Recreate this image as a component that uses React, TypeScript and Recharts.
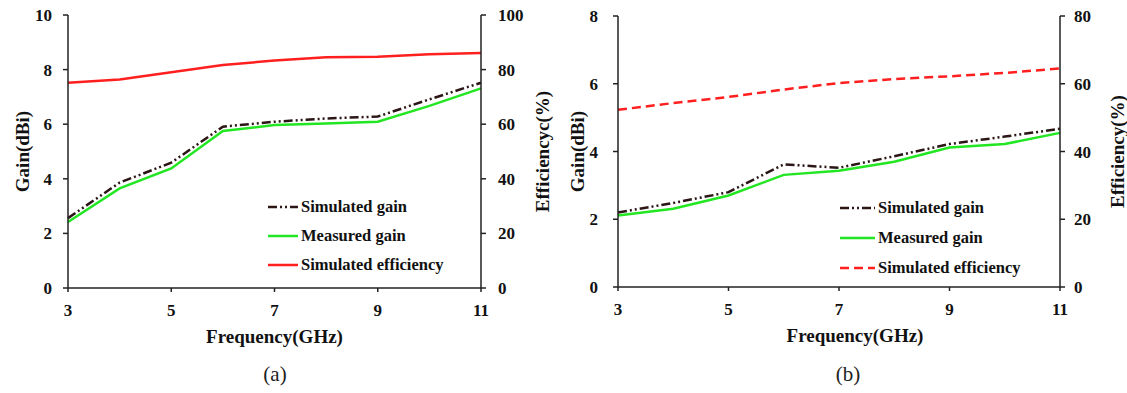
import { LineChart, Line, XAxis, YAxis, Legend, Label } from "recharts";

// frequency samples (GHz) shared by both panels
const freqs = [3, 4, 5, 6, 7, 8, 9, 10, 11];
const freqTicks = [3, 5, 7, 9, 11];

// panel (a)
const simGainA = [2.56, 3.86, 4.59, 5.91, 6.09, 6.21, 6.28, 6.91, 7.52];
const measGainA = [2.42, 3.65, 4.38, 5.75, 5.97, 6.03, 6.09, 6.67, 7.31];
const simEffA = [75.2, 76.4, 79.0, 81.7, 83.3, 84.5, 84.7, 85.6, 86.1];
const gainTicksA = [0, 2, 4, 6, 8, 10];
const effTicksA = [0, 20, 40, 60, 80, 100];

// panel (b)
const simGainB = [2.2, 2.48, 2.8, 3.62, 3.52, 3.86, 4.22, 4.44, 4.67];
const measGainB = [2.11, 2.31, 2.7, 3.31, 3.43, 3.7, 4.12, 4.22, 4.55];
const simEffB = [52.3, 54.3, 56.1, 58.3, 60.2, 61.4, 62.2, 63.2, 64.5];
const gainTicksB = [0, 2, 4, 6, 8];
const effTicksB = [0, 20, 40, 60, 80];

// legend order as in the figure
const legendOrder = ["sim", "meas", "eff"];

const SERIF = "'Liberation Serif', 'Times New Roman', serif";
const AXIS = { stroke: "#222", strokeWidth: 1.5 };
const tickStyle = { fontSize: 17, fontWeight: 700, fill: "#111", fontFamily: SERIF };
const titleStyle = { textAnchor: "middle", fontSize: 19, fontWeight: 700, fill: "#111", fontFamily: SERIF } as any;

const SIM_DASH = "9 3 2 3 2 3";

function buildRows(sim: number[], meas: number[], eff: number[]) {
  return freqs.map((f, i) => ({ f, sim: sim[i], meas: meas[i], eff: eff[i] }));
}

type PanelProps = {
  left: number;
  width: number;
  top: number;
  bottom: number;
  leftW: number;
  rightW: number;
  rows: ReturnType<typeof buildRows>;
  gainMax: number;
  gainTicks: number[];
  effMax: number;
  effTicks: number[];
  leftTickMargin: number;
  rightTickMargin: number;
  leftTitleOffset: number;
  rightTitle: string;
  rightTitleOffset: number;
  xTitleDx: number;
  effDash?: string;
  legendLeft: number;
  legendTop: number;
  legendRowH: number;
  legendLineW: number;
  caption: string;
  captionX: number;
};

function Panel(p: PanelProps) {
  const H = 393;
  const xH = 60;
  const dashFor: Record<string, string | undefined> = { sim: SIM_DASH, meas: undefined, eff: p.effDash };

  const renderLegend = (props: any) => {
    const items = [...(props.payload || [])].sort(
      (a: any, b: any) => legendOrder.indexOf(a.dataKey) - legendOrder.indexOf(b.dataKey)
    );
    return (
      <div style={{ fontFamily: SERIF }}>
        {items.map((e: any) => (
          <div key={e.value} style={{ display: "flex", alignItems: "center", height: p.legendRowH }}>
            <svg width={p.legendLineW + 3} height={6}>
              <line
                x1={0}
                x2={p.legendLineW}
                y1={3}
                y2={3}
                stroke={e.color}
                strokeWidth={2.5}
                strokeDasharray={dashFor[e.dataKey]}
              />
            </svg>
            <span style={{ fontSize: 16.5, fontWeight: 700, color: "#111" }}>{e.value}</span>
          </div>
        ))}
      </div>
    );
  };

  return (
    <div style={{ position: "absolute", left: p.left, top: 0, width: p.width, height: H }}>
      <LineChart
        width={p.width}
        height={H}
        data={p.rows}
        margin={{ top: p.top, right: 0, left: 0, bottom: H - p.bottom - xH }}
      >
        <XAxis
          dataKey="f"
          type="number"
          domain={[3, 11]}
          ticks={freqTicks}
          height={xH}
          axisLine={AXIS}
          tickLine={AXIS}
          tickSize={4}
          tickMargin={12}
          tick={tickStyle}
        >
          <Label value="Frequency(GHz)" position="insideBottom" offset={5} dx={p.xTitleDx} style={titleStyle} />
        </XAxis>
        <YAxis
          yAxisId="gain"
          domain={[0, p.gainMax]}
          ticks={p.gainTicks}
          width={p.leftW}
          axisLine={AXIS}
          tickLine={AXIS}
          tickSize={5}
          tickMargin={p.leftTickMargin}
          tick={tickStyle}
        >
          <Label value="Gain(dBi)" angle={-90} position="insideLeft" offset={p.leftTitleOffset} style={titleStyle} />
        </YAxis>
        <YAxis
          yAxisId="eff"
          orientation="right"
          domain={[0, p.effMax]}
          ticks={p.effTicks}
          width={p.rightW}
          axisLine={AXIS}
          tickLine={AXIS}
          tickSize={5}
          tickMargin={p.rightTickMargin}
          tick={tickStyle}
        >
          <Label value={p.rightTitle} angle={-90} position="insideRight" offset={p.rightTitleOffset} style={titleStyle} />
        </YAxis>
        <Legend
          layout="vertical"
          align="center"
          verticalAlign="middle"
          itemSorter={null as any}
          content={renderLegend}
          wrapperStyle={{ left: p.legendLeft, top: p.legendTop, width: 240 }}
        />
        <Line
          yAxisId="gain"
          dataKey="sim"
          name="Simulated gain"
          stroke="#2b1515"
          strokeWidth={2.5}
          strokeDasharray={SIM_DASH}
          dot={false}
          isAnimationActive={false}
        />
        <Line
          yAxisId="gain"
          dataKey="meas"
          name="Measured gain"
          stroke="#22e622"
          strokeWidth={2.5}
          dot={false}
          isAnimationActive={false}
        />
        <Line
          yAxisId="eff"
          dataKey="eff"
          name="Simulated efficiency"
          stroke="#ff1f1f"
          strokeWidth={2.5}
          strokeDasharray={p.effDash}
          dot={false}
          isAnimationActive={false}
        />
      </LineChart>
      <div
        style={{
          position: "absolute",
          left: p.captionX - p.left - 30,
          width: 60,
          top: 362,
          textAlign: "center",
          fontFamily: SERIF,
          fontSize: 21,
          color: "#222",
        }}
      >
        {p.caption}
      </div>
    </div>
  );
}

export default function App() {
  return (
    <div style={{ position: "absolute", left: 0, top: 0, width: 1127, height: 393, background: "#fff", fontFamily: SERIF }}>
      <Panel
        left={0}
        width={560}
        top={15}
        bottom={288}
        leftW={68}
        rightW={79}
        rows={buildRows(simGainA, measGainA, simEffA)}
        gainMax={10}
        gainTicks={gainTicksA}
        effMax={100}
        effTicks={effTicksA}
        leftTickMargin={11}
        rightTickMargin={12}
        leftTitleOffset={22}
        rightTitle="Efficiencyc(%)"
        rightTitleOffset={18}
        xTitleDx={0}
        legendLeft={268}
        legendTop={192}
        legendRowH={29}
        legendLineW={30}
        caption="(a)"
        captionX={275}
      />
      <Panel
        left={560}
        width={567}
        top={16}
        bottom={287}
        leftW={58}
        rightW={67}
        rows={buildRows(simGainB, measGainB, simEffB)}
        gainMax={8}
        gainTicks={gainTicksB}
        effMax={80}
        effTicks={effTicksB}
        leftTickMargin={15}
        rightTickMargin={9}
        leftTitleOffset={17}
        rightTitle="Efficiency(%)"
        rightTitleOffset={10}
        xTitleDx={16}
        effDash="9 5"
        legendLeft={280}
        legendTop={193}
        legendRowH={30}
        legendLineW={35}
        caption="(b)"
        captionX={848}
      />
    </div>
  );
}
